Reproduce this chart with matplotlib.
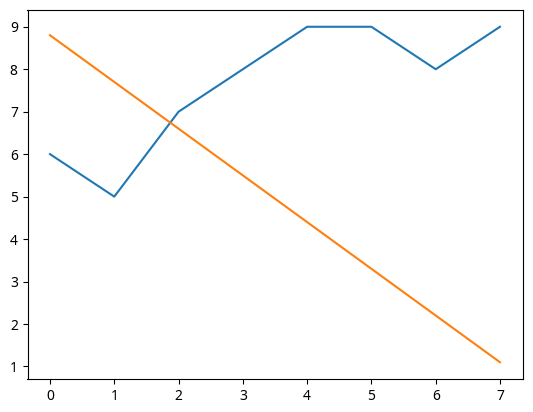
#!/usr/bin/env python3

# plot.py

import matplotlib
matplotlib.use('Agg')
import matplotlib.pyplot as plt

plt.rcParams['font.family'] = ['Noto Sans', 'DejaVu Sans']

x = [0, 1, 2, 3, 4, 5, 6, 7]
blue_vals = [6, 5, 7, 8, 9, 9, 8, 9]
orange_vals = [8.8, 7.7, 6.6, 5.5, 4.4, 3.3, 2.2, 1.1]

def main():
    fig = plt.figure(figsize=(5.33, 4.12), dpi=100)
    ax = fig.add_axes([27.5 / 533, (412 - 379) / 412, 495 / 533, 369 / 412])
    ax.plot(x, blue_vals)
    ax.plot(x, orange_vals)
    fig.savefig('out.png', dpi=100)

if __name__ == "__main__":
    main()
